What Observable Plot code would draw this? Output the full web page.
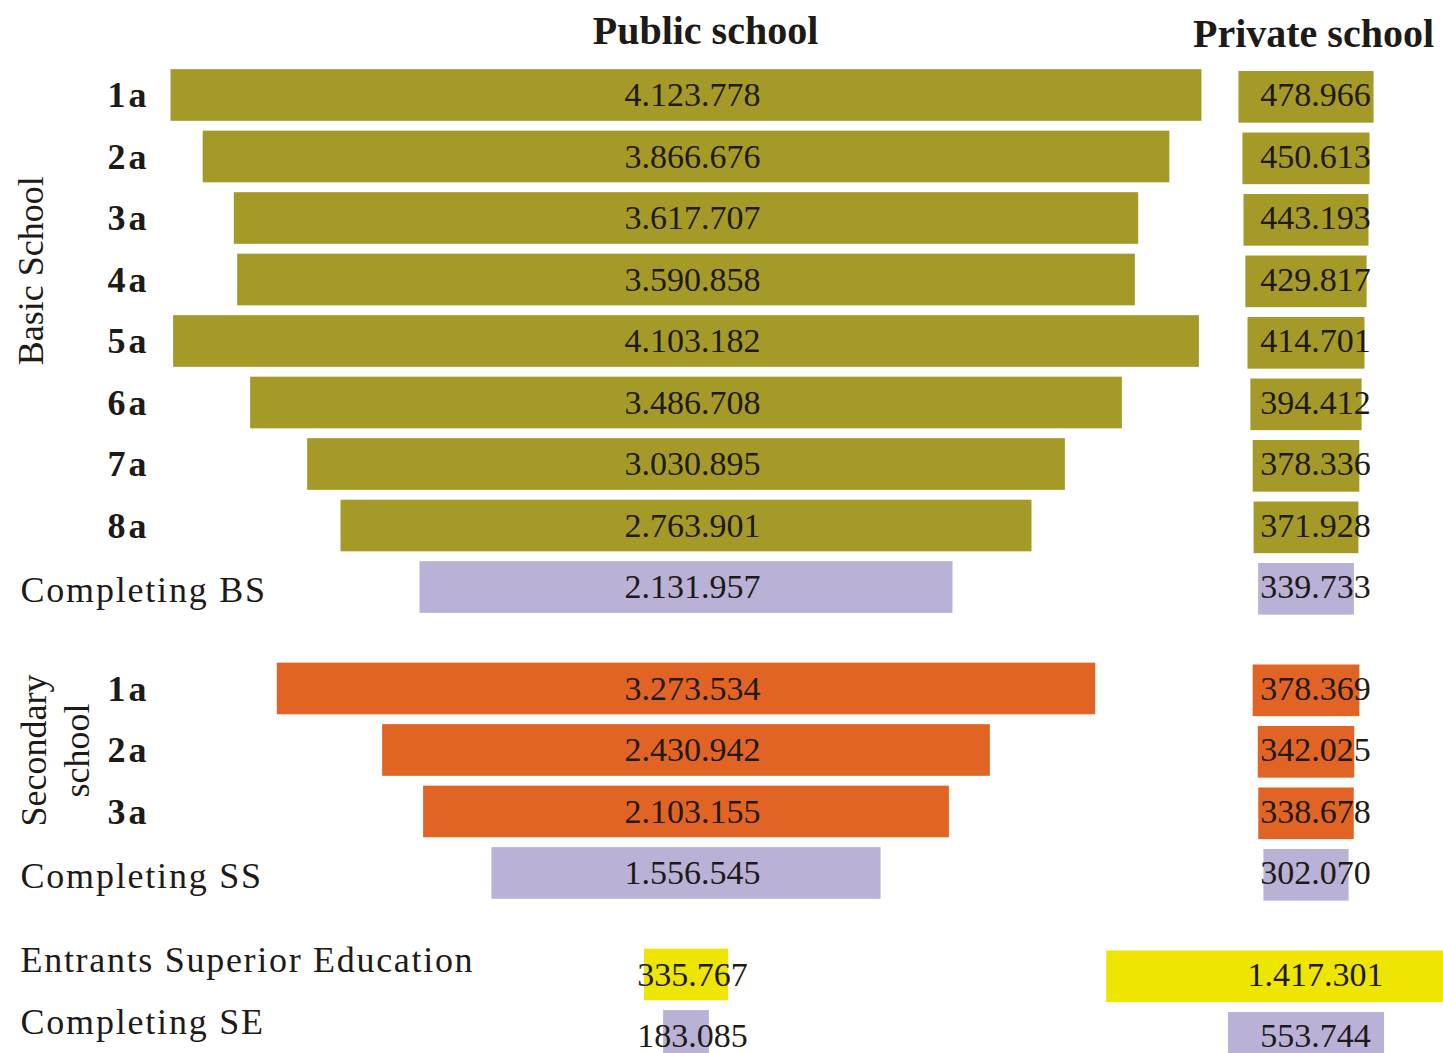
<!DOCTYPE html>
<html>
<head>
<meta charset="utf-8">
<script src="https://cdn.jsdelivr.net/npm/d3@7"></script>
<script src="https://cdn.jsdelivr.net/npm/@observablehq/plot@0.6"></script>
<style>
  body { margin: 0; background: #fff; }
  #wrap { position: relative; width: 1443px; height: 1053px; overflow: hidden; background: #fff; }
  #wrap svg { position: absolute; top: 0; }
</style>
</head>
<body>
<div id="wrap"></div>
<script>
// ---- data ----
const rowLabels = ["1a","2a","3a","4a","5a","6a","7a","8a","Completing BS",
                   "1a","2a","3a","Completing SS",
                   "Entrants Superior Education","Completing SE"];
const rowGroups = ["basic","basic","basic","basic","basic","basic","basic","basic","basic",
                   "secondary","secondary","secondary","secondary",
                   "superior","superior"];
const rowKinds = ["basic","basic","basic","basic","basic","basic","basic","basic","completing",
                  "secondaryGrade","secondaryGrade","secondaryGrade","completing",
                  "entrants","completing"];
const publicValues = [4123778, 3866676, 3617707, 3590858, 4103182, 3486708, 3030895, 2763901, 2131957,
                      3273534, 2430942, 2103155, 1556545,
                      335767, 183085];
const privateValues = [478966, 450613, 443193, 429817, 414701, 394412, 378336, 371928, 339733,
                       378369, 342025, 338678, 302070,
                       1417301, 553744];
const titles = ["Public school", "Private school"];
const groupTitles = {basic: "Basic School", secondary: "Secondary\nschool"};
const kinds = ["basic", "secondaryGrade", "completing", "entrants"];
const kindColors = ["#A59A27", "#E26425", "#B9B1D6", "#EEE600"];

// ---- layout ----
const W = 1443, H = 1053;
const rowStep = 61.5, firstRowY = 95, groupGap = 0.65;
const groupOrder = ["basic", "secondary", "superior"];
const rows = rowLabels.map((label, i) => ({
  label, group: rowGroups[i], kind: rowKinds[i],
  pub: publicValues[i], priv: privateValues[i],
  pos: i + groupGap * groupOrder.indexOf(rowGroups[i]),
  isGrade: /^\d/.test(label)
}));
const yScale = {domain: [-firstRowY / rowStep, (H - firstRowY) / rowStep], range: [0, H], axis: null};
const colorScale = {domain: kinds, range: kindColors};
const fmt = d3.formatLocale({thousands: ".", grouping: [3], decimal: ","}).format(",d");
const half = 0.42;
const ink = "#1d1a17";
const serif = "Liberation Serif";

// group label anchors
const basicRows = rows.filter(r => r.group === "basic" && r.isGrade);
const secRows = rows.filter(r => r.group === "secondary" && r.isGrade);
const groupLabelData = [
  {text: groupTitles.basic, pos: d3.mean(basicRows, r => r.pos)},
  {text: groupTitles.secondary, pos: d3.mean(secRows, r => r.pos)}
];

// ---- public plot ----
const pubCenter = 686, pubK = 0.00025;
const pubPlot = Plot.plot({
  width: W, height: H, margin: 0,
  style: {fontFamily: serif, background: "transparent"},
  x: {domain: [-pubCenter / pubK, (W - pubCenter) / pubK], range: [0, W], axis: null},
  y: yScale,
  color: colorScale,
  marks: [
    Plot.rect(rows, {x1: d => -d.pub / 2, x2: d => d.pub / 2, y1: d => d.pos - half, y2: d => d.pos + half, fill: "kind"}),
    Plot.text(rows, {x: 0, y: "pos", text: d => fmt(d.pub), dx: 6, fontSize: 34, fill: ink}),
    // grade labels
    Plot.text(rows.filter(r => r.isGrade), {y: "pos", text: "label", frameAnchor: "left", dx: 107, textAnchor: "start", fontSize: 36, fill: ink, fontWeight: "bold"}),
    // completing labels
    Plot.text(rows.filter(r => !r.isGrade && r.group !== "superior"), {y: "pos", text: "label", frameAnchor: "left", dx: 20, dy: 3, textAnchor: "start", fontSize: 36, fill: ink}),
    Plot.text(rows.filter(r => r.group === "superior"), {y: "pos", text: "label", frameAnchor: "left", dx: 20, dy: -14, textAnchor: "start", fontSize: 36, fill: ink}),
    // group labels
    Plot.text(groupLabelData.slice(0, 1), {y: "pos", text: "text", frameAnchor: "left", dx: 31, dy: -40, rotate: -90, textAnchor: "middle", fontSize: 36, fill: ink}),
    Plot.text(groupLabelData.slice(1), {y: "pos", text: "text", frameAnchor: "left", dx: 53, rotate: -90, textAnchor: "middle", fontSize: 36, lineHeight: 1.2, fill: ink}),
    // title
    Plot.text([titles[0]], {x: 0, text: d => d, frameAnchor: "top", dx: 19, dy: 15, fontSize: 40, fontWeight: "bold", fill: ink})
  ]
});
pubPlot.style.left = "0px";

// row label letter spacing (style tweak)
d3.select(pubPlot).selectAll("text").each(function () {
  const t = this.textContent;
  if (/^\d+a$/.test(t)) this.setAttribute("letter-spacing", "3");
  else if (/^Completing/.test(t)) this.setAttribute("letter-spacing", "1.8");
  else if (/^Entrants/.test(t)) this.setAttribute("letter-spacing", "1.7");
});

// ---- private plot ----
const rightX = 1100, rightW = W - rightX, privCenter = 1306 - rightX, privK = 0.000282;
const privPlot = Plot.plot({
  width: rightW, height: H, margin: 0,
  style: {fontFamily: serif, background: "transparent"},
  x: {domain: [-privCenter / privK, (rightW - privCenter) / privK], range: [0, rightW], axis: null},
  y: yScale,
  color: colorScale,
  marks: [
    Plot.rect(rows, {x1: d => -d.priv / 2, x2: d => d.priv / 2, y1: d => d.pos - half + 0.03, y2: d => d.pos + half + 0.03, fill: "kind", clip: true}),
    Plot.text(rows, {x: 0, y: "pos", text: d => fmt(d.priv), dx: 9, fontSize: 34, fill: ink}),
    Plot.text([titles[1]], {x: 0, text: d => d, frameAnchor: "top", dx: 7, dy: 18, fontSize: 40, fontWeight: "bold", fill: ink})
  ]
});
privPlot.style.left = rightX + "px";

const wrap = document.getElementById("wrap");
wrap.appendChild(pubPlot);
wrap.appendChild(privPlot);
</script>
</body>
</html>
